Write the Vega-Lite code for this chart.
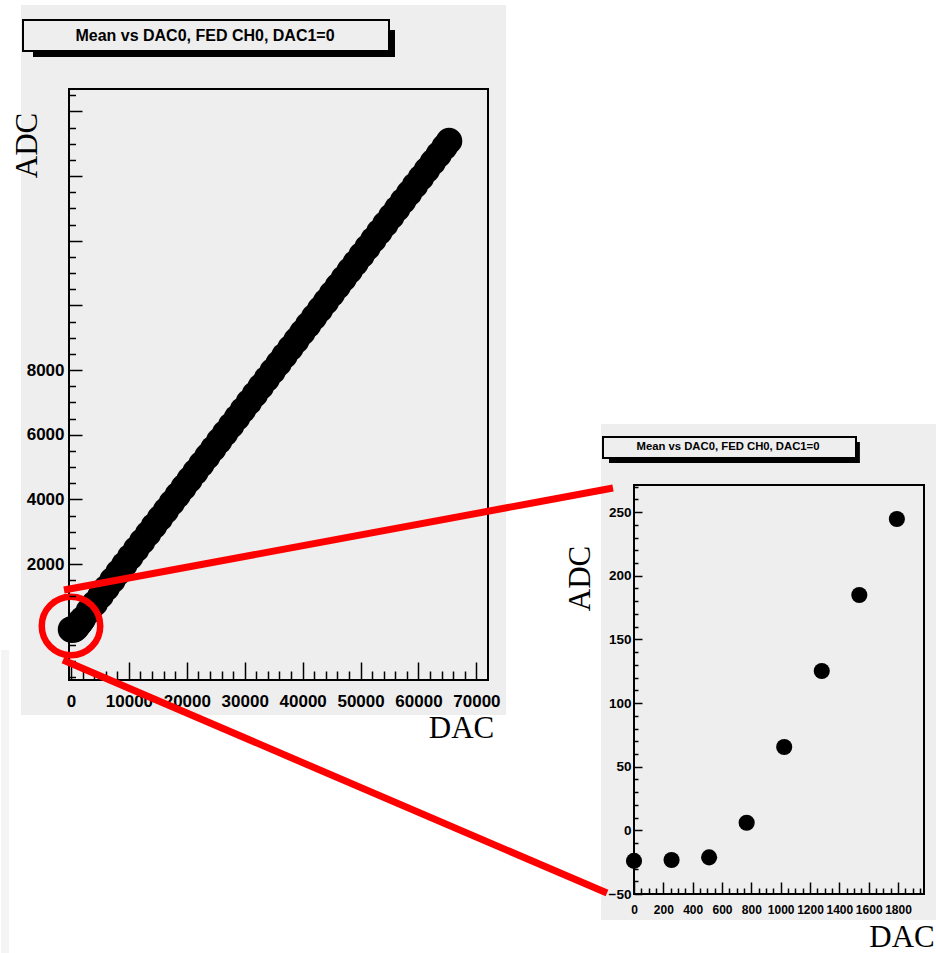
{
  "$schema": "https://vega.github.io/schema/vega-lite/v6.json",
  "background": "white",
  "padding": {"left": 0, "top": 5, "right": 0, "bottom": 0},
  "autosize": {"type": "pad"},
  "config": {"view": {"stroke": null}, "axis": {"grid": false}},
  "datasets": {
    "full": [
      {"DAC": 0, "ADC": -24}, {"DAC": 256, "ADC": -23}, {"DAC": 512, "ADC": -21}, {"DAC": 768, "ADC": 6},
      {"DAC": 1024, "ADC": 65}, {"DAC": 1280, "ADC": 125}, {"DAC": 1536, "ADC": 185}, {"DAC": 1792, "ADC": 245},
      {"DAC": 2048, "ADC": 304}, {"DAC": 3072, "ADC": 544}, {"DAC": 4096, "ADC": 783}, {"DAC": 5120, "ADC": 1022},
      {"DAC": 6144, "ADC": 1262}, {"DAC": 7168, "ADC": 1501}, {"DAC": 8192, "ADC": 1741}, {"DAC": 9216, "ADC": 1980},
      {"DAC": 10240, "ADC": 2219}, {"DAC": 11264, "ADC": 2459}, {"DAC": 12288, "ADC": 2698}, {"DAC": 13312, "ADC": 2937},
      {"DAC": 14336, "ADC": 3177}, {"DAC": 15360, "ADC": 3416}, {"DAC": 16384, "ADC": 3655}, {"DAC": 17408, "ADC": 3895},
      {"DAC": 18432, "ADC": 4134}, {"DAC": 19456, "ADC": 4373}, {"DAC": 20480, "ADC": 4613}, {"DAC": 21504, "ADC": 4852},
      {"DAC": 22528, "ADC": 5092}, {"DAC": 23552, "ADC": 5331}, {"DAC": 24576, "ADC": 5570}, {"DAC": 25600, "ADC": 5810},
      {"DAC": 26624, "ADC": 6049}, {"DAC": 27648, "ADC": 6288}, {"DAC": 28672, "ADC": 6528}, {"DAC": 29696, "ADC": 6767},
      {"DAC": 30720, "ADC": 7006}, {"DAC": 31744, "ADC": 7246}, {"DAC": 32768, "ADC": 7485}, {"DAC": 33792, "ADC": 7725},
      {"DAC": 34816, "ADC": 7964}, {"DAC": 35840, "ADC": 8203}, {"DAC": 36864, "ADC": 8443}, {"DAC": 37888, "ADC": 8682},
      {"DAC": 38912, "ADC": 8921}, {"DAC": 39936, "ADC": 9161}, {"DAC": 40960, "ADC": 9400}, {"DAC": 41984, "ADC": 9639},
      {"DAC": 43008, "ADC": 9879}, {"DAC": 44032, "ADC": 10118}, {"DAC": 45056, "ADC": 10358}, {"DAC": 46080, "ADC": 10597},
      {"DAC": 47104, "ADC": 10836}, {"DAC": 48128, "ADC": 11076}, {"DAC": 49152, "ADC": 11315}, {"DAC": 50176, "ADC": 11554},
      {"DAC": 51200, "ADC": 11794}, {"DAC": 52224, "ADC": 12033}, {"DAC": 53248, "ADC": 12272}, {"DAC": 54272, "ADC": 12512},
      {"DAC": 55296, "ADC": 12751}, {"DAC": 56320, "ADC": 12990}, {"DAC": 57344, "ADC": 13230}, {"DAC": 58368, "ADC": 13469},
      {"DAC": 59392, "ADC": 13709}, {"DAC": 60416, "ADC": 13948}, {"DAC": 61440, "ADC": 14187}, {"DAC": 62464, "ADC": 14427},
      {"DAC": 63488, "ADC": 14666}, {"DAC": 64512, "ADC": 14905}, {"DAC": 65280, "ADC": 15085}
    ],
    "zoom": [
      {"DAC": 0, "ADC": -24}, {"DAC": 256, "ADC": -23.3}, {"DAC": 512, "ADC": -21.2}, {"DAC": 768, "ADC": 6},
      {"DAC": 1024, "ADC": 65.5}, {"DAC": 1280, "ADC": 125.2}, {"DAC": 1536, "ADC": 184.9}, {"DAC": 1792, "ADC": 244.6}
    ]
  },
  "hconcat": [
    {
      "width": 419,
      "height": 591,
      "resolve": {"axis": {"x": "independent", "y": "independent"}},
      "layer": [
        {
          "data": {"values": [{}]},
          "mark": {"type": "rect", "fill": "#f4f4f4"},
          "encoding": {
            "x": {"datum": -12086, "type": "quantitative", "scale": {"domain": [-345, 72000], "nice": false, "zero": false}, "axis": null},
            "x2": {"datum": -10705},
            "y": {"datum": -659, "type": "quantitative", "scale": {"domain": [-1587, 16693], "nice": false, "zero": false}, "axis": null},
            "y2": {"datum": -10031}
          }
        },
        {
          "data": {"values": [{}]},
          "mark": {"type": "rect", "fill": "#eeeeee"},
          "encoding": {
            "x": {"datum": -8633, "type": "quantitative", "scale": {"domain": [-345, 72000], "nice": false, "zero": false}, "axis": null},
            "x2": {"datum": 75107},
            "y": {"datum": 19291, "type": "quantitative", "scale": {"domain": [-1587, 16693], "nice": false, "zero": false}, "axis": null},
            "y2": {"datum": -2669}
          }
        },
        {
          "data": {"values": [{}]},
          "mark": {"type": "rect", "fill": "black"},
          "encoding": {
            "x": {"datum": -6561, "type": "quantitative", "scale": {"domain": [-345, 72000], "nice": false, "zero": false}, "axis": null},
            "x2": {"datum": 55942},
            "y": {"datum": 18518, "type": "quantitative", "scale": {"domain": [-1587, 16693], "nice": false, "zero": false}, "axis": null},
            "y2": {"datum": 17683}
          }
        },
        {
          "data": {"values": [{}]},
          "mark": {"type": "rect", "fill": "#eeeeee", "stroke": "black", "strokeWidth": 2},
          "encoding": {
            "x": {"datum": -8287, "type": "quantitative", "scale": {"domain": [-345, 72000], "nice": false, "zero": false}, "axis": null},
            "x2": {"datum": 54906},
            "y": {"datum": 18827, "type": "quantitative", "scale": {"domain": [-1587, 16693], "nice": false, "zero": false}, "axis": null},
            "y2": {"datum": 17868}
          }
        },
        {
          "data": {"values": [{}]},
          "mark": {"type": "text", "text": "Mean vs DAC0, FED CH0, DAC1=0", "font": "Liberation Sans", "fontSize": 16, "fontWeight": "bold", "align": "center", "baseline": "middle", "color": "black"},
          "encoding": {
            "x": {"datum": 23137, "type": "quantitative", "scale": {"domain": [-345, 72000], "nice": false, "zero": false}, "axis": null},
            "y": {"datum": 18332, "type": "quantitative", "scale": {"domain": [-1587, 16693], "nice": false, "zero": false}, "axis": null}
          }
        },
        {
          "data": {"name": "full"},
          "mark": {"type": "circle", "color": "black", "size": 700, "opacity": 1},
          "encoding": {
            "x": {
              "field": "DAC", "type": "quantitative",
              "scale": {"domain": [-345, 72000], "nice": false, "zero": false},
              "axis": {
                "orient": "bottom", "values": [0, 10000, 20000, 30000, 40000, 50000, 60000, 70000], "format": "d",
                "tickSize": -18, "tickWidth": 1.5, "tickColor": "black", "domain": false,
                "labelFont": "Liberation Sans", "labelFontSize": 17, "labelFontWeight": "bold", "labelColor": "black", "labelPadding": 31, "labelFlush": false, "labelOverlap": false,
                "title": "DAC", "titleFont": "Liberation Serif", "titleFontSize": 31, "titleFontWeight": "normal", "titleColor": "black",
                "titleX": 392, "titleY": 57, "titleAlign": "center", "titleBaseline": "alphabetic", "titleAngle": 0, "zindex": 1
              }
            },
            "y": {
              "field": "ADC", "type": "quantitative",
              "scale": {"domain": [-1587, 16693], "nice": false, "zero": false},
              "axis": {
                "orient": "left", "values": [0, 2000, 4000, 6000, 8000, 10000, 12000, 14000, 16000], "format": "d",
                "labelExpr": "datum.value >= 2000 && datum.value <= 8000 ? datum.label : ''",
                "tickSize": -13, "tickWidth": 1.5, "tickColor": "black", "domain": false,
                "labelFont": "Liberation Sans", "labelFontSize": 17, "labelFontWeight": "bold", "labelColor": "black", "labelPadding": 18, "labelFlush": false, "labelOverlap": false,
                "title": "ADC", "titleFont": "Liberation Serif", "titleFontSize": 31, "titleFontWeight": "normal", "titleColor": "black",
                "titleX": -33, "titleY": 56, "titleAlign": "center", "titleBaseline": "alphabetic", "titleAngle": 270, "zindex": 1
              }
            }
          }
        },
        {
          "data": {"values": [{}]},
          "mark": {"type": "rect", "filled": false, "color": "black", "stroke": "black", "strokeWidth": 2},
          "encoding": {
            "x": {
              "datum": -345, "type": "quantitative",
              "scale": {"domain": [-345, 72000], "nice": false, "zero": false},
              "axis": {
                "orient": "bottom", "values": [2000, 4000, 6000, 8000, 12000, 14000, 16000, 18000, 22000, 24000, 26000, 28000, 32000, 34000, 36000, 38000, 42000, 44000, 46000, 48000, 52000, 54000, 56000, 58000, 62000, 64000, 66000, 68000],
                "labels": false, "domain": false, "title": null, "tickSize": -9, "tickWidth": 1.5, "tickColor": "black", "zindex": 1
              }
            },
            "x2": {"datum": 72000},
            "y": {
              "datum": -1587, "type": "quantitative",
              "scale": {"domain": [-1587, 16693], "nice": false, "zero": false},
              "axis": {
                "orient": "left", "values": [-1500, -1000, -500, 500, 1000, 1500, 2500, 3000, 3500, 4500, 5000, 5500, 6500, 7000, 7500, 8500, 9000, 9500, 10500, 11000, 11500, 12500, 13000, 13500, 14500, 15000, 15500, 16500],
                "labels": false, "domain": false, "title": null, "tickSize": -6.5, "tickWidth": 1.5, "tickColor": "black", "zindex": 1
              }
            },
            "y2": {"datum": 16693}
          }
        },
        {
          "data": {"values": [{}]},
          "mark": {"type": "point", "shape": "circle", "filled": false, "color": "#ff0000", "stroke": "#ff0000", "strokeWidth": 6.5, "size": 3421, "opacity": 1},
          "encoding": {
            "x": {"datum": 0, "type": "quantitative", "scale": {"domain": [-345, 72000], "nice": false, "zero": false}, "axis": null},
            "y": {"datum": 84, "type": "quantitative", "scale": {"domain": [-1587, 16693], "nice": false, "zero": false}, "axis": null}
          }
        }
      ]
    },
    {
      "spacing": 0,
      "bounds": "flush",
      "vconcat": [
        {
          "width": 290,
          "height": 396,
          "data": {"values": []},
          "mark": "point",
          "encoding": {}
        },
        {
          "width": 290,
          "height": 409,
          "resolve": {"axis": {"x": "independent", "y": "independent"}},
          "layer": [
            {
              "data": {"values": [{}]},
              "mark": {"type": "rect", "fill": "#eeeeee"},
              "encoding": {
                "x": {"datum": -225, "type": "quantitative", "scale": {"domain": [0, 1977], "nice": false, "zero": false}, "axis": null},
                "x2": {"datum": 2066},
                "y": {"datum": 319.2, "type": "quantitative", "scale": {"domain": [-50, 271.3], "nice": false, "zero": false}, "axis": null},
                "y2": {"datum": -70.4}
              }
            },
            {
              "data": {"values": [{}]},
              "mark": {"type": "rect", "fill": "black"},
              "encoding": {
                "x": {"datum": -170.4, "type": "quantitative", "scale": {"domain": [0, 1977], "nice": false, "zero": false}, "axis": null},
                "x2": {"datum": 1540},
                "y": {"datum": 305, "type": "quantitative", "scale": {"domain": [-50, 271.3], "nice": false, "zero": false}, "axis": null},
                "y2": {"datum": 288.6}
              }
            },
            {
              "data": {"values": [{}]},
              "mark": {"type": "rect", "fill": "#eeeeee", "stroke": "black", "strokeWidth": 2},
              "encoding": {
                "x": {"datum": -211.3, "type": "quantitative", "scale": {"domain": [0, 1977], "nice": false, "zero": false}, "axis": null},
                "x2": {"datum": 1513.4},
                "y": {"datum": 309, "type": "quantitative", "scale": {"domain": [-50, 271.3], "nice": false, "zero": false}, "axis": null},
                "y2": {"datum": 292.5}
              }
            },
            {
              "data": {"values": [{}]},
              "mark": {"type": "text", "text": "Mean vs DAC0, FED CH0, DAC1=0", "font": "Liberation Sans", "fontSize": 11.3, "fontWeight": "bold", "align": "center", "baseline": "middle", "color": "black"},
              "encoding": {
                "x": {"datum": 640.8, "type": "quantitative", "scale": {"domain": [0, 1977], "nice": false, "zero": false}, "axis": null},
                "y": {"datum": 300.8, "type": "quantitative", "scale": {"domain": [-50, 271.3], "nice": false, "zero": false}, "axis": null}
              }
            },
            {
              "data": {"name": "zoom"},
              "mark": {"type": "circle", "color": "black", "size": 260, "opacity": 1},
              "encoding": {
                "x": {
                  "field": "DAC", "type": "quantitative",
                  "scale": {"domain": [0, 1977], "nice": false, "zero": false},
                  "axis": {
                    "orient": "bottom", "values": [0, 200, 400, 600, 800, 1000, 1200, 1400, 1600, 1800], "format": "d",
                    "tickSize": -12, "tickWidth": 1.5, "tickColor": "black", "domain": false,
                    "labelFont": "Liberation Sans", "labelFontSize": 12, "labelFontWeight": "bold", "labelColor": "black", "labelPadding": 22.5, "labelFlush": false, "labelOverlap": false,
                    "title": "DAC", "titleFont": "Liberation Serif", "titleFontSize": 31, "titleFontWeight": "normal", "titleColor": "black",
                    "titleX": 267.5, "titleY": 52, "titleAlign": "center", "titleBaseline": "alphabetic", "titleAngle": 0, "zindex": 1
                  }
                },
                "y": {
                  "field": "ADC", "type": "quantitative",
                  "scale": {"domain": [-50, 271.3], "nice": false, "zero": false},
                  "axis": {
                    "orient": "left", "values": [-50, 0, 50, 100, 150, 200, 250], "format": "d",
                    "tickSize": -8, "tickWidth": 1.5, "tickColor": "black", "domain": false,
                    "labelFont": "Liberation Sans", "labelFontSize": 13.5, "labelFontWeight": "bold", "labelColor": "black", "labelPadding": 11, "labelFlush": false, "labelOverlap": false,
                    "title": "ADC", "titleFont": "Liberation Serif", "titleFontSize": 31, "titleFontWeight": "normal", "titleColor": "black",
                    "titleX": -45, "titleY": 93, "titleAlign": "center", "titleBaseline": "alphabetic", "titleAngle": 270, "zindex": 1
                  }
                }
              }
            },
            {
              "data": {"values": [{}]},
              "mark": {"type": "rect", "filled": false, "color": "black", "stroke": "black", "strokeWidth": 2},
              "encoding": {
                "x": {
                  "datum": 0, "type": "quantitative",
                  "scale": {"domain": [0, 1977], "nice": false, "zero": false},
                  "axis": {
                    "orient": "bottom", "values": [50, 100, 150, 250, 300, 350, 450, 500, 550, 650, 700, 750, 850, 900, 950, 1050, 1100, 1150, 1250, 1300, 1350, 1450, 1500, 1550, 1650, 1700, 1750, 1850, 1900, 1950],
                    "labels": false, "domain": false, "title": null, "tickSize": -6, "tickWidth": 1.5, "tickColor": "black", "zindex": 1
                  }
                },
                "x2": {"datum": 1977},
                "y": {
                  "datum": -50, "type": "quantitative",
                  "scale": {"domain": [-50, 271.3], "nice": false, "zero": false},
                  "axis": {
                    "orient": "left", "values": [-40, -30, -20, -10, 10, 20, 30, 40, 60, 70, 80, 90, 110, 120, 130, 140, 160, 170, 180, 190, 210, 220, 230, 240, 260, 270],
                    "labels": false, "domain": false, "title": null, "tickSize": -4, "tickWidth": 1.5, "tickColor": "black", "zindex": 1
                  }
                },
                "y2": {"datum": 271.3}
              }
            },
            {
              "data": {"values": [{}]},
              "mark": {"type": "rule", "color": "#ff0000", "strokeWidth": 7},
              "encoding": {
                "x": {"datum": -3886, "type": "quantitative", "scale": {"domain": [0, 1977], "nice": false, "zero": false}, "axis": null},
                "x2": {"datum": -143.2},
                "y": {"datum": 188.8, "type": "quantitative", "scale": {"domain": [-50, 271.3], "nice": false, "zero": false}, "axis": null},
                "y2": {"datum": 268.9}
              }
            },
            {
              "data": {"values": [{}]},
              "mark": {"type": "rule", "color": "#ff0000", "strokeWidth": 7},
              "encoding": {
                "x": {"datum": -3892.5, "type": "quantitative", "scale": {"domain": [0, 1977], "nice": false, "zero": false}, "axis": null},
                "x2": {"datum": -184},
                "y": {"datum": 133.8, "type": "quantitative", "scale": {"domain": [-50, 271.3], "nice": false, "zero": false}, "axis": null},
                "y2": {"datum": -49.2}
              }
            }
          ]
        }
      ]
    }
  ],
  "spacing": 146,
  "bounds": "flush"
}
